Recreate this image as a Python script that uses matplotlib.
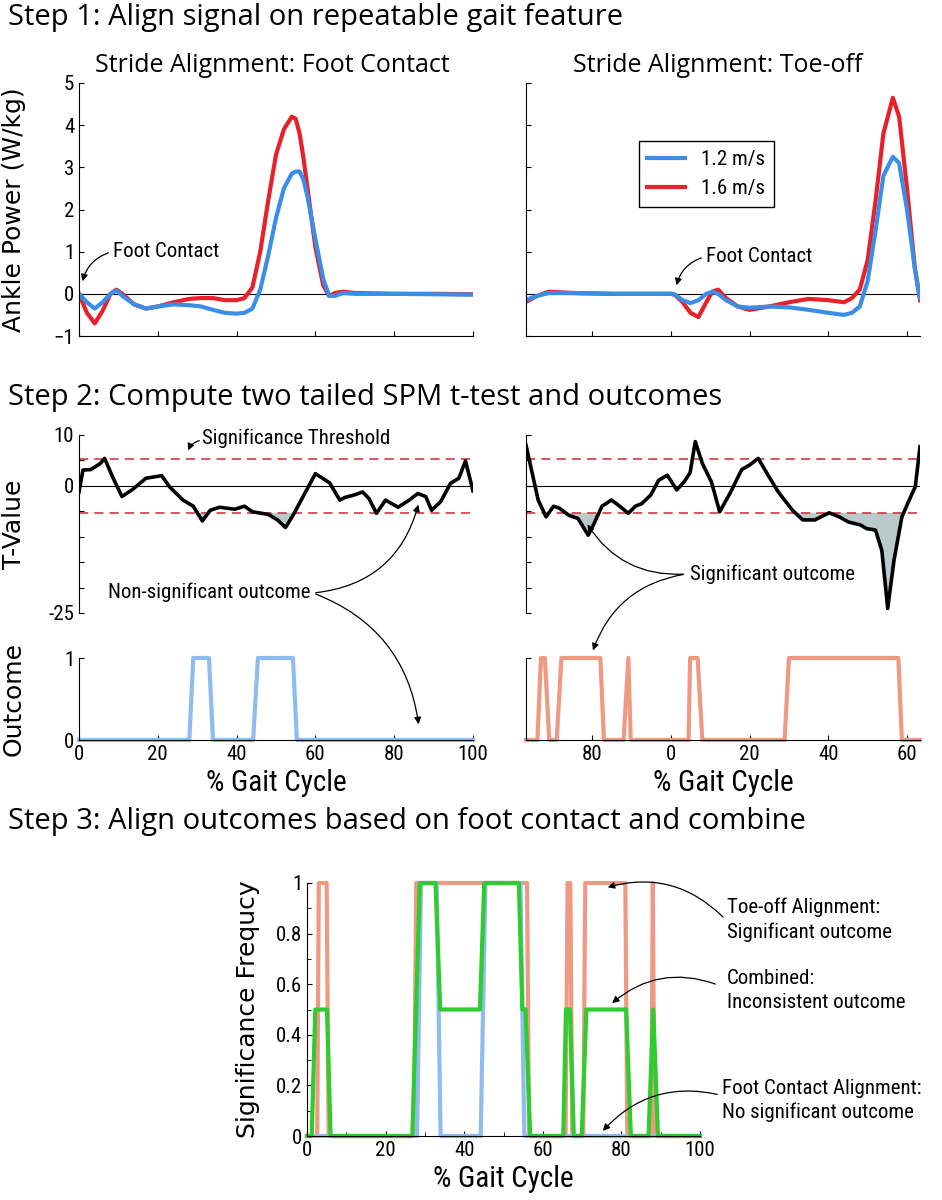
import matplotlib.pyplot as plt
from matplotlib import font_manager

W, H = 942, 1200
BLUE = "#3a8ee6"
RED = "#e8202a"
LBLUE = "#8fbcf0"
SALMON = "#ee9a82"
GREEN = "#2ecc2e"

# Step 1: ankle power, foot-contact alignment (% gait cycle)
fc_x = [0, 2, 4, 6, 8, 9.5, 11, 14, 17, 20, 24, 28, 31, 34, 37, 40, 42, 44, 46, 48, 50, 52, 54,
        55, 56, 57, 58, 60, 62, 63.5, 65, 67, 70, 80, 90, 100]
fc_slow = [0, -0.2, -0.35, -0.2, 0.0, 0.08, -0.05, -0.25, -0.35, -0.3, -0.25, -0.27, -0.3, -0.38,
           -0.45, -0.47, -0.45, -0.35, 0.1, 0.9, 1.8, 2.5, 2.85, 2.9, 2.9, 2.7, 2.3, 1.3, 0.35,
           -0.05, -0.05, 0.02, 0.0, 0.0, -0.01, -0.02]
fc_fast = [0, -0.45, -0.7, -0.4, 0.0, 0.1, 0.0, -0.25, -0.35, -0.3, -0.2, -0.12, -0.1, -0.1,
           -0.15, -0.15, -0.1, 0.15, 1.0, 2.2, 3.3, 3.9, 4.2, 4.15, 3.8, 3.2, 2.5, 1.1, 0.2,
           -0.05, 0.02, 0.05, 0.02, 0.0, 0.0, -0.01]

# Step 1: toe-off alignment (shifted axis, 0 = foot contact)
to_x = [-37, -34, -31, -25, -15, -5, 0, 1, 3, 5, 7, 9, 10.5, 12, 14, 17, 20, 25, 30, 35, 40, 44,
        46, 48, 50, 52, 54, 56.4, 58, 60, 62, 63.3]
to_fast = [-0.2, -0.05, 0.05, 0.02, 0.0, 0.0, 0.0, -0.02, -0.2, -0.45, -0.55, -0.2, 0.05, 0.1,
           -0.1, -0.3, -0.38, -0.3, -0.2, -0.12, -0.15, -0.2, -0.1, 0.1, 0.8, 2.2, 3.8, 4.65,
           4.2, 2.5, 0.6, -0.15]
to_slow = [-0.15, -0.05, 0.02, 0.02, 0.0, 0.0, 0.0, -0.02, -0.15, -0.22, -0.15, 0.0, 0.05, 0.0,
           -0.15, -0.3, -0.33, -0.3, -0.32, -0.38, -0.45, -0.5, -0.45, -0.3, 0.3, 1.5, 2.8,
           3.25, 3.1, 2.0, 0.6, -0.1]

# Step 2: t-values
t_fc_x = [0, 1, 3, 5.4, 6.5, 8.5, 10.9, 13.6, 17, 21, 23, 26.4, 29, 31.3, 33.3, 35.7, 39.5, 42,
          44, 48, 50.4, 52.4, 54.3, 56.6, 60, 63.6, 66.2, 67.4, 69.8, 72, 73.6, 75.5, 77.8, 81,
          84, 86, 88, 89.5, 91.8, 94.3, 96.4, 98.1, 100]
t_fc = [-1.2, 3.1, 3.2, 4.4, 5.4, 1.8, -2.1, -0.7, 1.5, 2.0, -0.2, -2.8, -4.0, -6.9, -4.8, -4.2,
        -4.6, -4.0, -5.1, -5.6, -6.7, -8.2, -5.8, -2.5, 2.4, 0.6, -2.8, -2.3, -1.8, -1.2, -2.5,
        -5.4, -2.8, -4.2, -2.7, -1.5, -2.1, -4.8, -3.1, 0.5, 1.5, 4.9, -1.0]
t_to_x = [-36.8, -35.2, -33.7, -31.7, -29.8, -28.3, -25.9, -23.6, -21, -19.5, -17.5, -15.1, -13.3,
          -10.8, -9, -7.4, -5.1, -3.1, -0.9, 1.5, 3.4, 4.9, 6.2, 8, 10.3, 12.4, 15, 18, 20, 22.2,
          24.7, 27.3, 30.9, 33.5, 36.6, 40.2, 42.8, 45.1, 48.2, 49.7, 52, 53.6, 55.1, 56.7,
          58.7, 61.3, 62.1, 63.3]
t_to = [8.0, 2.4, -2.8, -6.1, -4.0, -4.4, -5.8, -6.4, -9.7, -7.4, -4.0, -2.8, -3.8, -5.4, -4.0,
        -3.5, -1.8, 1.1, 2.1, -0.8, 0.8, 2.6, 8.7, 4.4, 0.8, -5.1, -1.5, 3.2, 4.1, 5.4, 2.1,
        -1.2, -4.8, -6.7, -6.7, -5.3, -6.1, -7.1, -7.7, -8.4, -8.7, -12.7, -24.1, -14.6, -6.1,
        -1.5, -0.2, 7.7]
t_thresh = 5.3

# Step 2: outcomes
out_fc_x = [0, 28, 29, 33, 34, 44.2, 45.4, 54.3, 55.3, 100]
out_fc = [0, 0, 1, 1, 0, 0, 1, 1, 0, 0]
out_to_x = [-36.8, -33.9, -33, -32, -30.9, -29, -27.8, -17.9, -17, -12, -10.8, -10.2, 4.5, 4.9,
            6.8, 8, 28.9, 30, 57.8, 58.7, 63.3]
out_to = [0, 0, 1, 1, 0, 0, 1, 1, 0, 0, 1, 0, 0, 1, 1, 0, 0, 1, 1, 0, 0]

# Step 3: combined outcomes
s3_to_x = [0, 2.6, 3, 5, 5.5, 27.2, 27.8, 56, 56.5, 65.8, 66.3, 67, 67.5, 70.3, 70.8, 81,
           81.5, 87.6, 88, 88.4, 100]
s3_to = [0, 0, 1, 1, 0, 0, 1, 1, 0, 0, 1, 1, 0, 0, 1, 1, 0, 0, 1, 0, 0]
s3_fc_x = [0, 28, 29, 33, 34, 44.2, 45.4, 54.3, 55.3, 100]
s3_fc = [0, 0, 1, 1, 0, 0, 1, 1, 0, 0]
s3_cb_x = [0, 1.2, 2.1, 5.1, 6, 26.8, 28.7, 32.7, 33.9, 44, 45.1, 53.9, 54.8, 55.6, 56.8, 65.2,
           65.9, 66.9, 67.9, 69.9, 71.1, 81.2, 82.4, 86.9, 88.1, 89.3, 100]
s3_cb = [0, 0, 0.5, 0.5, 0, 0, 1, 1, 0.5, 0.5, 1, 1, 0.5, 0.5, 0, 0, 0.5, 0.5, 0, 0, 0.5, 0.5, 0,
         0, 0.5, 0, 0]

names = {f.name for f in font_manager.fontManager.ttflist}
NARROW = ["Liberation Sans Narrow", "Roboto Condensed", "Lato"]
NARROW = [f for f in NARROW if f in names] or ["Lato"]
HEAD = "Open Sans"
plt.rcParams["font.family"] = NARROW + ["DejaVu Sans"]
plt.rcParams["xtick.direction"] = "in"
plt.rcParams["ytick.direction"] = "in"
plt.rcParams["xtick.labelsize"] = 15
plt.rcParams["ytick.labelsize"] = 15

fig = plt.figure(figsize=(W / 100, H / 100), dpi=100)


def ax_px(l, t, r, b):
    ax = fig.add_axes([l / W, 1 - b / H, (r - l) / W, (b - t) / H])
    ax.spines["top"].set_visible(False)
    ax.spines["right"].set_visible(False)
    ax.patch.set_alpha(0)
    return ax


def fig_text(x, y, s, **kw):
    fig.text(x / W, 1 - y / H, s, **kw)


def arrow(xy_text, xy_to, rad):
    fig.add_artist(plt.matplotlib.patches.FancyArrowPatch(
        (xy_text[0] / W, 1 - xy_text[1] / H), (xy_to[0] / W, 1 - xy_to[1] / H),
        transform=fig.transFigure, arrowstyle="-|>", mutation_scale=10,
        connectionstyle=f"arc3,rad={rad}", color="black", lw=0.9))


head_kw = dict(fontsize=21, family=HEAD, va="center", ha="left")
fig_text(8, 18, "Step 1: Align signal on repeatable gait feature", **head_kw)
fig_text(8, 398, "Step 2: Compute two tailed SPM t-test and outcomes", **head_kw)
fig_text(8, 822, "Step 3: Align outcomes based on foot contact and combine", **head_kw)

sub_kw = dict(fontsize=18, family=HEAD, va="center", ha="center")
fig_text(272, 66, "Stride Alignment: Foot Contact", **sub_kw)
fig_text(718, 66, "Stride Alignment: Toe-off", **sub_kw)

to_ticks = [-20, 0, 20, 40, 60]
to_labels = ["80", "0", "20", "40", "60"]
ylab_kw = dict(family="DejaVu Sans", fontsize=18)

# ---- Step 1 panels
ax1 = ax_px(79, 83, 473, 336)
ax1.axhline(0, color="black", lw=0.8)
ax1.plot(fc_x, fc_fast, color=RED, lw=3)
ax1.plot(fc_x, fc_slow, color=BLUE, lw=3)
ax1.set_xlim(0, 100)
ax1.set_ylim(-1, 5)
ax1.set_xticks(range(0, 101, 20))
ax1.set_xticklabels([])
ax1.set_yticks(range(-1, 6))
ax1.set_ylabel("Ankle Power (W/kg)", **ylab_kw)
ax1.yaxis.set_label_coords(-0.135, 0.5)

ax2 = ax_px(526, 83, 920, 336)
ax2.axhline(0, color="black", lw=0.8)
ax2.plot(to_x, to_fast, color=RED, lw=3, label="1.6 m/s")
ax2.plot(to_x, to_slow, color=BLUE, lw=3, label="1.2 m/s")
ax2.set_xlim(-36.8, 63.3)
ax2.set_ylim(-1, 5)
ax2.set_xticks(to_ticks)
ax2.set_xticklabels([])
ax2.set_yticks(range(-1, 6))
ax2.set_yticklabels([])
hs, ls = ax2.get_legend_handles_labels()
ax2.legend(hs[::-1], ls[::-1], loc="upper left", bbox_to_anchor=(0.26, 0.81), fontsize=15,
           fancybox=False, edgecolor="black", framealpha=1, handlelength=1.8)

fig_text(113, 251, "Foot Contact", fontsize=15, va="center")
arrow((111, 252), (82, 284), 0.3)
fig_text(706, 256, "Foot Contact", fontsize=15, va="center")
arrow((704, 257), (676, 288), 0.3)

# ---- Step 2 t-value panels
for l, r, xs, ts, xl in [(79, 473, t_fc_x, t_fc, (0, 100)),
                         (526, 920, t_to_x, t_to, (-36.8, 63.3))]:
    ax = ax_px(l, 435, r, 613)
    ax.spines["bottom"].set_visible(False)
    ax.axhline(0, color="black", lw=0.8)
    ax.axhline(t_thresh, color="#d0282a", lw=1.1, ls=(0, (6, 4)))
    ax.axhline(-t_thresh, color="#d0282a", lw=1.1, ls=(0, (6, 4)))
    ax.fill_between(xs, ts, -t_thresh, where=[t < -t_thresh for t in ts], interpolate=True,
                    color="#a9bdbd", alpha=0.8, lw=0)
    ax.plot(xs, ts, color="black", lw=2.6)
    ax.set_xlim(*xl)
    ax.set_ylim(-25, 10)
    ax.set_xticks([])
    ax.set_yticks(range(-25, 11, 5))
    if l == 79:
        ax.set_yticklabels(["-25", "", "", "", "", "0", "", "10"])
        ax.set_ylabel("T-Value", **ylab_kw)
        ax.yaxis.set_label_coords(-0.135, 0.5)
    else:
        ax.set_yticklabels([])

# ---- Step 2 outcome panels
ax5 = ax_px(79, 658, 473, 740)
ax5.plot(out_fc_x, out_fc, color=LBLUE, lw=3, clip_on=False)
ax5.set_xlim(0, 100)
ax5.set_ylim(0, 1)
ax5.set_xticks(range(0, 101, 20))
ax5.set_yticks([0, 1])
ax5.set_xlabel("% Gait Cycle", fontsize=21)
ax5.set_ylabel("Outcome", **ylab_kw)
ax5.yaxis.set_label_coords(-0.135, 0.5)

ax6 = ax_px(526, 658, 920, 740)
ax6.plot(out_to_x, out_to, color=SALMON, lw=3, clip_on=False)
ax6.set_xlim(-36.8, 63.3)
ax6.set_ylim(0, 1)
ax6.set_xticks(to_ticks)
ax6.set_xticklabels(to_labels)
ax6.set_yticks([0, 1])
ax6.set_yticklabels([])
ax6.set_xlabel("% Gait Cycle", fontsize=21)

fig_text(202, 438, "Significance Threshold", fontsize=15, va="center")
arrow((202, 440), (187, 453), 0.3)
fig_text(310, 592, "Non-significant outcome", fontsize=15, va="center", ha="right")
arrow((313, 593), (419, 502), 0.35)
arrow((313, 593), (419, 727), -0.3)
fig_text(690, 574, "Significant outcome", fontsize=15, va="center", ha="left")
arrow((686, 574), (586, 522), -0.3)
arrow((686, 574), (592, 653), 0.3)

# ---- Step 3
ax7 = ax_px(307, 883, 700, 1136)
ax7.plot(s3_to_x, s3_to, color=SALMON, lw=3, clip_on=False)
ax7.plot(s3_fc_x, s3_fc, color=LBLUE, lw=3, clip_on=False)
ax7.plot(s3_cb_x, s3_cb, color=GREEN, lw=3, clip_on=False)
ax7.set_xlim(0, 100)
ax7.set_ylim(0, 1)
ax7.set_xticks(range(0, 101, 20))
ax7.set_xticks(range(0, 101, 10), minor=True)
ax7.set_yticks([0, 0.2, 0.4, 0.6, 0.8, 1])
ax7.set_yticklabels(["0", "0.2", "0.4", "0.6", "0.8", "1"])
ax7.set_yticks([0.1, 0.3, 0.5, 0.7, 0.9], minor=True)
ax7.tick_params(which="minor", direction="in", length=3)
ax7.set_xlabel("% Gait Cycle", fontsize=21)
ax7.set_ylabel("Significance Frequcy", **ylab_kw)
ax7.yaxis.set_label_coords(-0.12, 0.5)

ann_kw = dict(fontsize=15, va="center", ha="left")
fig_text(727, 907, "Toe-off Alignment:", **ann_kw)
fig_text(727, 932, "Significant outcome", **ann_kw)
arrow((725, 919), (605, 888), 0.3)
fig_text(727, 978, "Combined:", **ann_kw)
fig_text(727, 1002, "Inconsistent outcome", **ann_kw)
arrow((718, 985), (610, 1005), 0.3)
fig_text(722, 1088, "Foot Contact Alignment:", **ann_kw)
fig_text(722, 1112, "No significant outcome", **ann_kw)
arrow((720, 1095), (601, 1133), 0.3)

fig.savefig("out.png", dpi=100)
